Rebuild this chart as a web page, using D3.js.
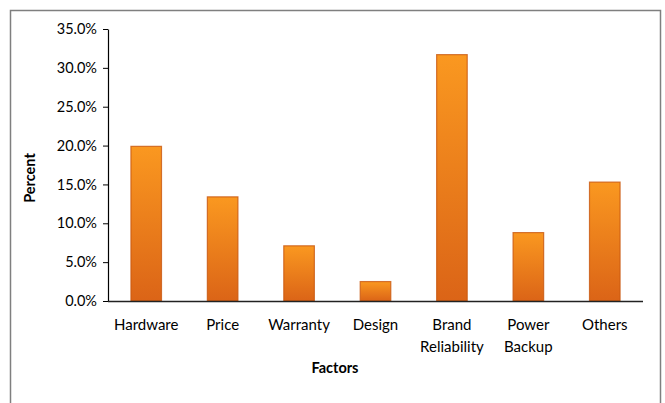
<!DOCTYPE html>
<html><head><meta charset="utf-8">
<script src="https://cdn.jsdelivr.net/npm/d3@7/dist/d3.min.js"></script>
<style>body{margin:0;background:#fff}svg{display:block}text{font-family:Lato,"Open Sans",sans-serif;fill:#000}</style>
</head><body>
<script>
const categories = [["Hardware"],["Price"],["Warranty"],["Design"],["Brand","Reliability"],["Power","Backup"],["Others"]];
const values = [0.199, 0.134, 0.071, 0.025, 0.317, 0.088, 0.153];
const yTicks = [0,0.05,0.10,0.15,0.20,0.25,0.30,0.35];

const W=665,H=403;
const svg=d3.select("body").append("svg").attr("width",W).attr("height",H);
svg.append("rect").attr("x",10.5).attr("y",10.5).attr("width",650).attr("height",420)
  .attr("fill","#fff").attr("stroke","#7f7f7f").attr("stroke-width",1.5);

const defs=svg.append("defs");
const g=defs.append("linearGradient").attr("id","bg").attr("x1",0).attr("y1",0).attr("x2",0).attr("y2",1);
g.append("stop").attr("offset","0%").attr("stop-color","#fa9820");
g.append("stop").attr("offset","100%").attr("stop-color","#db6417");

const x0=108,x1=643,yTop=29,yBot=301;
const x=d3.scaleBand().domain(d3.range(categories.length)).range([x0,x1]).paddingInner(0.6).paddingOuter(0.3);
const y=d3.scaleLinear().domain([0,0.35]).range([yBot,yTop]);

svg.selectAll("rect.bar").data(values).enter().append("rect").attr("class","bar")
  .attr("x",(d,i)=>x(i)).attr("width",x.bandwidth())
  .attr("y",d=>y(d)).attr("height",d=>yBot-y(d))
  .attr("fill","url(#bg)").attr("stroke","#c9570f").attr("stroke-width",1.2).attr("stroke-opacity",0.8);

const ya=svg.append("g").attr("transform",`translate(${x0},0)`)
  .call(d3.axisLeft(y).tickValues(yTicks).tickFormat(d3.format(".1%")).tickSize(5).tickSizeOuter(0));
ya.select(".domain").attr("stroke","#000").attr("stroke-width",1.2);
ya.selectAll(".tick line").attr("stroke","#000");
ya.selectAll(".tick text").attr("x",-11).attr("font-size",14.5).attr("font-family","Lato,sans-serif");

svg.append("line").attr("x1",x0).attr("x2",x1).attr("y1",yBot+0.5).attr("y2",yBot+0.5).attr("stroke","#222").attr("stroke-width",1.5);

const xl=svg.append("g");
categories.forEach((c,i)=>{
  const t=xl.append("text").attr("text-anchor","middle").attr("font-size",15)
    .attr("x",x(i)+x.bandwidth()/2).attr("y",330);
  c.forEach((s,j)=>t.append("tspan").attr("x",x(i)+x.bandwidth()/2).attr("dy",j?22:0).text(s));
});

svg.append("text").attr("text-anchor","middle").attr("font-size",14.5).attr("font-weight","bold")
  .attr("x",335).attr("y",373).text("Factors");
svg.append("text").attr("text-anchor","middle").attr("font-size",14.5).attr("font-weight","bold")
  .attr("transform","translate(35,178) rotate(-90)").text("Percent");
</script>
</body></html>
